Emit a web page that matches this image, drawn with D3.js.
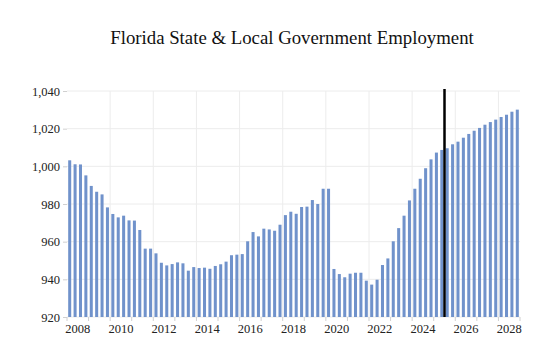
<!DOCTYPE html>
<html>
<head>
<meta charset="utf-8">
<script src="https://cdn.jsdelivr.net/npm/d3@7"></script>
<style>
  body { margin: 0; background: #fff; }
  svg { display: block; }
  svg text { font-family: "Liberation Serif", "Times New Roman", serif; }
</style>
</head>
<body>
<svg width="559" height="362"></svg>
<script>
const YEARS = d3.range(2008, 2029);
const QUARTERS = ['Q1', 'Q2', 'Q3', 'Q4'];
// thousands of jobs, quarterly 2008Q1 - 2028Q4
const EMPLOYMENT = [
    1003.2, 1001.1, 1001.0, 995.2,
    989.6, 986.5, 985.1, 978.2,
    974.7, 972.9, 973.8, 971.3,
    971.2, 966.2, 956.3, 956.3,
    953.8, 948.8, 947.4, 948.1,
    949.0, 948.5, 944.6, 946.5,
    946.0, 946.2, 945.6, 947.1,
    948.0, 949.4, 952.8, 953.1,
    953.4, 960.2, 965.1, 962.8,
    966.9, 966.5, 965.8, 969.0,
    974.1, 975.9, 974.8, 978.4,
    978.6, 982.1, 980.0, 988.1,
    988.1, 945.5, 942.8, 941.1,
    943.0, 943.5, 943.5, 939.3,
    937.2, 939.8, 947.6, 951.1,
    960.2, 967.2, 973.8, 981.9,
    988.1, 993.4, 999.0, 1003.7,
    1007.3, 1008.7, 1009.6, 1011.7,
    1013.1, 1015.2, 1017.2, 1018.9,
    1020.4, 1022.1, 1023.5, 1024.8,
    1026.2, 1027.4, 1029.0, 1030.1,
];
const Y_TICKS = [920, 940, 960, 980, 1000, 1020, 1040];
const LABEL_YEARS = [2008, 2010, 2012, 2014, 2016, 2018, 2020, 2022, 2024, 2026, 2028];
const FORECAST_START = '2025Q3';

const MARGINS = { top: 91, right: 39, bottom: 45, left: 67 };
const WIDTH = 559;
const HEIGHT = 362;

const categories = [];
YEARS.forEach((yr) => QUARTERS.forEach((q) => categories.push(yr + q)));
const data = categories.map((c, i) => ({ id: c, value: EMPLOYMENT[i] }));

const x = d3.scaleBand()
    .domain(categories)
    .range([MARGINS.left, WIDTH - MARGINS.right])
    .paddingInner(0.44)
    .paddingOuter(0.22);
const y = d3.scaleLinear()
    .domain([920, 1040])
    .range([HEIGHT - MARGINS.bottom, MARGINS.top]);

const svg = d3.select('svg');

// left edge of a year's first quarter
const yearStart = (yr) => x(yr + 'Q1') - x.step() * x.paddingInner() / 2;
const yearMid = (yr) => x(yr + 'Q3') - x.step() * x.paddingInner() / 2;

// grid
svg.append('g')
    .selectAll('line')
    .data(Y_TICKS)
    .enter()
    .append('line')
    .attr('x1', MARGINS.left)
    .attr('x2', WIDTH - MARGINS.right)
    .attr('y1', (d) => y(d))
    .attr('y2', (d) => y(d))
    .attr('stroke', '#ececec')
    .attr('stroke-width', 1);

svg.append('g')
    .selectAll('line')
    .data(LABEL_YEARS.filter((yr) => yr > 2008))
    .enter()
    .append('line')
    .attr('x1', (d) => yearStart(d))
    .attr('x2', (d) => yearStart(d))
    .attr('y1', MARGINS.top)
    .attr('y2', HEIGHT - MARGINS.bottom)
    .attr('stroke', '#ececec')
    .attr('stroke-width', 1);

// bars
svg.append('g')
    .selectAll('.bar')
    .data(data, (d) => d.id)
    .enter()
    .append('rect')
    .classed('bar', true)
    .attr('x', (d) => x(d.id))
    .attr('width', x.bandwidth())
    .attr('y', (d) => y(d.value))
    .attr('height', (d) => y(920) - y(d.value))
    .attr('fill', '#7092cb');

// forecast line
const fx = x(FORECAST_START) - x.step() * x.paddingInner() / 2;
svg.append('line')
    .attr('x1', fx)
    .attr('x2', fx)
    .attr('y1', MARGINS.top - 2)
    .attr('y2', HEIGHT - MARGINS.bottom)
    .attr('stroke', '#000')
    .attr('stroke-width', 2.5);

// y axis
const yAxis = svg.append('g')
    .attr('transform', `translate(${MARGINS.left}, 0)`)
    .call(d3.axisLeft(y).tickValues(Y_TICKS).tickFormat(d3.format(',')).tickSize(4).tickPadding(3));
yAxis.attr('font-family', null);
yAxis.select('.domain').remove();
yAxis.selectAll('line').attr('stroke', '#d0d0d0');
yAxis.selectAll('text').attr('font-size', 12.5).attr('fill', '#222');

// x axis: ticks at year boundaries, labels at year centres
const xAxis = svg.append('g');
xAxis.selectAll('line')
    .data(YEARS.concat([2029]))
    .enter()
    .append('line')
    .attr('x1', (d) => d === 2029 ? WIDTH - MARGINS.right : yearStart(d))
    .attr('x2', (d) => d === 2029 ? WIDTH - MARGINS.right : yearStart(d))
    .attr('y1', HEIGHT - MARGINS.bottom)
    .attr('y2', HEIGHT - MARGINS.bottom + 4)
    .attr('stroke', '#d0d0d0');
xAxis.selectAll('text')
    .data(LABEL_YEARS)
    .enter()
    .append('text')
    .attr('x', (d) => yearMid(d))
    .attr('y', HEIGHT - MARGINS.bottom + 16)
    .attr('text-anchor', 'middle')
    .attr('font-size', 12.5)
    .attr('fill', '#222')
    .text((d) => d);

// title
svg.append('text')
    .attr('x', 292)
    .attr('y', 44)
    .attr('text-anchor', 'middle')
    .attr('font-size', 18.8)
    .attr('fill', '#111')
    .text('Florida State & Local Government Employment');
</script>
</body>
</html>
